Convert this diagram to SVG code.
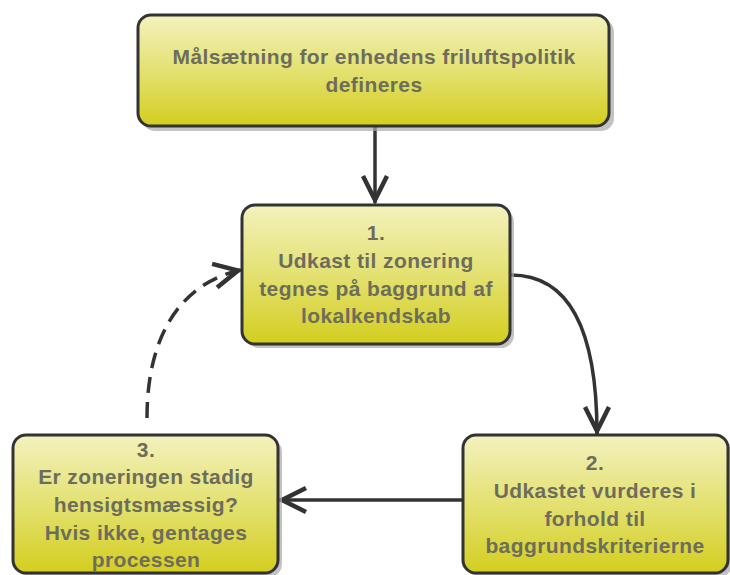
<svg xmlns="http://www.w3.org/2000/svg" width="730" height="575" viewBox="0 0 730 575">
<defs>
<linearGradient id="g" x1="0" y1="0" x2="0" y2="1">
<stop offset="0" stop-color="#f3f2bd"/>
<stop offset="0.55" stop-color="#e2df6a"/>
<stop offset="1" stop-color="#d3ce1e"/>
</linearGradient>
<marker id="ah" viewBox="0 0 34 30" refX="30" refY="15" markerWidth="34" markerHeight="30" markerUnits="userSpaceOnUse" orient="auto">
<path d="M3,3 L27,15 L3,27" fill="none" stroke="#333" stroke-width="4.5" stroke-linejoin="miter" stroke-miterlimit="10"/>
</marker>
</defs>
<style>
.box{fill:url(#g);stroke:#333;stroke-width:3}
.sh{fill:#aaa;opacity:0.7}
.t{font-family:"Liberation Sans",Arial,sans-serif;font-size:21px;font-weight:bold;letter-spacing:0.4px;fill:#6d6d5c;text-anchor:middle}
.c{fill:none;stroke:#333;stroke-width:3.5}
</style>
<g id="connectors">
<path class="c" d="M375,127 L375,203" marker-end="url(#ah)"/>
<path class="c" d="M511,275 C575,275 597,340 597,434" marker-end="url(#ah)"/>
<path class="c" d="M463,500 L279,500" marker-end="url(#ah)"/>
<path class="c" d="M147,418 C147,330 185,282 241,270" stroke-dasharray="16,9" marker-end="url(#ah)"/>
</g>
<g id="node-top">
<rect class="sh" x="142" y="19" width="472" height="112" rx="13"/>
<rect class="box" x="138" y="15" width="471" height="111" rx="13"/>
<text class="t" x="374" y="64">Målsætning for enhedens friluftspolitik</text>
<text class="t" x="374" y="92">defineres</text>
</g>
<g id="node-1">
<rect class="sh" x="246" y="209" width="268" height="139" rx="13"/>
<rect class="box" x="242" y="205" width="268" height="139" rx="13"/>
<text class="t" x="376" y="240">1.</text>
<text class="t" x="376" y="268">Udkast til zonering</text>
<text class="t" x="376" y="296">tegnes på baggrund af</text>
<text class="t" x="376" y="323">lokalkendskab</text>
</g>
<g id="node-2">
<rect class="sh" x="467" y="439" width="265" height="138" rx="13"/>
<rect class="box" x="463" y="435" width="265" height="138" rx="13"/>
<text class="t" x="595" y="470">2.</text>
<text class="t" x="595" y="498">Udkastet vurderes i</text>
<text class="t" x="595" y="526">forhold til</text>
<text class="t" x="595" y="553">baggrundskriterierne</text>
</g>
<g id="node-3">
<rect class="sh" x="17" y="439" width="265" height="138" rx="13"/>
<rect class="box" x="13" y="435" width="265" height="138" rx="13"/>
<text class="t" x="146" y="457">3.</text>
<text class="t" x="146" y="484">Er zoneringen stadig</text>
<text class="t" x="146" y="512">hensigtsmæssig?</text>
<text class="t" x="146" y="540">Hvis ikke, gentages</text>
<text class="t" x="146" y="567">processen</text>
</g>
</svg>
